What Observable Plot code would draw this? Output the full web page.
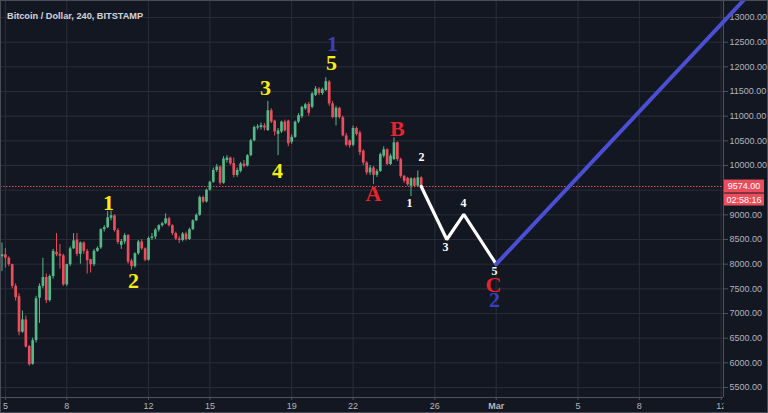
<!DOCTYPE html>
<html><head><meta charset="utf-8">
<script src="https://cdn.jsdelivr.net/npm/d3@7"></script>
<script src="https://cdn.jsdelivr.net/npm/@observablehq/plot@0.6"></script>
<style>
html,body{margin:0;padding:0;background:#131722;}
#chart{width:768px;height:413px;overflow:hidden;}
</style></head><body><div id="chart"></div>
<script>
// ---- data: 4h candles, BITSTAMP BTC/USD, from 2018-02-04 20:00 UTC ----
const firstCandle = "2018-02-04T20:00:00Z";
const opens  = [8150,8190,8120,7990,7550,7340,6620,6870,6330,5970,6450,7310,7550,7730,7260,7750,8240,8200,8170,7580,7990,8310,8490,8200,8430,8260,8090,7990,8260,8330,8700,8740,8930,8980,8680,8380,8450,8580,8060,7950,8210,8450,8310,8080,8520,8550,8690,8780,8820,8920,8780,8620,8510,8480,8610,8500,8700,8880,8990,9350,9260,9500,9660,9900,9970,9640,10100,10150,10040,9800,9880,10030,9990,10200,10500,10760,10770,10800,10710,11110,10900,10630,10680,10880,10900,10470,10570,10880,10990,11150,11240,11180,11420,11550,11460,11520,11690,11250,10970,11160,10970,10600,10500,10410,10750,10660,10290,10050,9850,9950,9800,9880,10190,10320,10020,10120,10460,10120,9780,9740,9580,9730,9580,9750];
const highs  = [8430,8320,8150,8000,7600,7400,7050,6950,6350,6500,7350,7600,8120,7800,7780,8300,8620,8400,8200,8000,8350,8620,8620,8450,8450,8300,8100,8300,8350,8720,8780,9070,9080,9000,8720,8500,8620,8600,8100,8230,8480,8500,8330,8550,8620,8720,8800,8850,9020,8950,8800,8650,8560,8640,8650,8730,8900,9020,9380,9380,9520,9680,9950,10020,9990,10180,10200,10170,10150,9950,10060,10100,10220,10530,10800,10830,10860,10850,11300,11150,10920,10750,10900,10920,10920,10620,10900,11050,11200,11260,11280,11480,11600,11580,11570,11780,11720,11300,11200,11180,11000,10650,10520,10800,10780,10700,10320,10080,10000,9980,9920,10250,10380,10340,10230,10560,10480,10150,9800,9760,9750,9750,9890,9770];
const lows   = [7850,7920,7950,7500,7250,6550,6600,6300,5930,5950,6400,6800,7500,7200,7230,7700,8150,7900,7550,7550,7950,8300,8150,8000,8200,7800,7820,7950,8240,8300,8650,8720,8880,8650,8400,8300,8400,8000,7880,7920,8180,8280,8050,8060,8480,8500,8650,8750,8800,8750,8580,8480,8420,8450,8470,8480,8680,8860,8970,9230,9240,9480,9640,9860,9600,9620,10050,10000,9750,9760,9850,9950,9970,10180,10480,10720,10720,10700,10690,10850,10600,10200,10650,10680,10380,10430,10550,10850,10950,11120,11000,11150,11400,11420,11420,11500,11200,10950,10800,10940,10580,10380,10350,10380,10600,10200,10000,9800,9800,9610,9760,9860,10150,10000,10000,10100,10080,9740,9640,9580,9370,9550,9560,9540];
const closes = [8190,8120,7990,7550,7320,6620,6870,6320,5960,6450,7300,7550,7730,7260,7750,8260,8190,8160,7580,7990,8310,8470,8200,8430,8260,8070,7990,8260,8320,8700,8740,8940,8980,8680,8440,8460,8580,8040,7950,8210,8450,8310,8080,8520,8550,8690,8780,8820,8920,8780,8620,8510,8480,8610,8500,8700,8880,8990,9350,9260,9500,9660,9900,9970,9640,10130,10150,10030,9800,9900,10030,9980,10200,10500,10770,10780,10810,10760,11110,10880,10680,10700,10880,10700,10440,10570,10880,11010,11180,11230,11060,11450,11550,11460,11540,11700,11250,10970,11160,10970,10600,10410,10400,10750,10630,10260,10050,9850,9950,9800,9880,10220,10320,10020,10190,10460,10120,9780,9680,9610,9730,9580,9750,9574];
const lastPrice = 9574;
const countdown = "02:58:16";

// projected sub-waves (white) and next impulse (blue)
const waveDates  = ["2018-02-25T08:00:00Z","2018-02-26T14:00:00Z","2018-02-27T10:00:00Z","2018-03-01T00:00:00Z"];
const wavePrices = [9574, 8500, 9010, 8000];
const impulseDates  = ["2018-03-01T00:00:00Z","2018-03-13T02:10:00Z"];
const impulsePrices = [8000, 13345];

// wave labels
const labelTexts  = ["1","2","3","4","5","1","A","B","1","2","3","4","C","2","5"];
const labelGroups = ["minor","minor","minor","minor","minor","major","abc","abc","sub","sub","sub","sub","abc","major","sub"];
const labelDates  = ["2018-02-10T01:00:00Z","2018-02-11T06:15:00Z","2018-02-17T17:15:00Z","2018-02-18T07:25:00Z","2018-02-20T22:50:00Z","2018-02-20T23:50:00Z","2018-02-23T00:00:00Z","2018-02-24T04:05:00Z","2018-02-24T18:15:00Z","2018-02-25T08:25:00Z","2018-02-26T12:30:00Z","2018-02-27T09:35:00Z","2018-02-28T20:50:00Z","2018-02-28T22:00:00Z","2018-02-28T22:00:00Z"];
const labelPrices = [9250, 7669, 11581, 9898, 12070, 12470, 9432, 10750, 9230, 10162, 8338, 9230, 7580, 7270, 7860];

// axes ticks (9500 label is hidden under the last-price tag in the source)
const xTickDates = ["2018-02-05","2018-02-08","2018-02-12","2018-02-15","2018-02-19","2018-02-22","2018-02-26","2018-03-01","2018-03-05","2018-03-08","2018-03-12"];
const yGridValues = [5500,6000,6500,7000,7500,8000,8500,9000,9500,10000,10500,11000,11500,12000,12500,13000];
const yLabelValues = [5500,6000,6500,7000,7500,8000,8500,9000,10000,10500,11000,11500,12000,12500,13000];
const chartTitle = "Bitcoin / Dollar, 240, BITSTAMP";

// ---- build ----
const H4 = 4 * 3600e3;
const t0 = new Date(firstCandle).getTime();
const candles = opens.map((o, i) => ({date: new Date(t0 + i * H4), open: o, high: highs[i], low: lows[i], close: closes[i]}));
const wave = waveDates.map((d, i) => ({date: new Date(d), price: wavePrices[i]}));
const impulse = impulseDates.map((d, i) => ({date: new Date(d), price: impulsePrices[i]}));
const labels = labelTexts.map((t, i) => ({text: t, group: labelGroups[i], date: new Date(labelDates[i]), price: labelPrices[i]}));
const xTicks = xTickDates.map(d => new Date(d + "T00:00:00Z"));

const DAY = 864e5, feb5 = Date.UTC(2018, 1, 5), pxPerDay = 20.45, x0 = 4.9, plotRight = 723;
const xDomain = [new Date(feb5 - x0 / pxPerDay * DAY), new Date(feb5 + (plotRight - x0) / pxPerDay * DAY)];

const GREEN = "#53b987", RED = "#eb4d5c";
const col = d => d.close >= d.open ? GREEN : RED;
const serif = "'Liberation Serif','Times New Roman',serif";
const sans = "'Liberation Sans',Arial,sans-serif";

const grp = g => labels.filter(d => d.group === g);

const plot = Plot.plot({
  width: 768, height: 413,
  marginLeft: 0, marginRight: 45, marginTop: 0, marginBottom: 16,
  style: {background: "#131722", color: "#b2b5be", fontFamily: sans, fontSize: "9px"},
  x: {type: "utc", domain: xDomain, axis: null},
  y: {domain: [5297, 13345], axis: null},
  marks: [
    Plot.gridX(xTicks, {stroke: "#2a2e39", strokeOpacity: 1}),
    Plot.gridY(yGridValues, {stroke: "#2a2e39", strokeOpacity: 1}),
    Plot.axisX(xTicks, {anchor: "bottom", tickSize: 3, tickPadding: 2, stroke: "#50535e",
      tickFormat: d => d.getUTCDate() === 1 ? "Mar" : String(d.getUTCDate()), fill: "#b2b5be", label: null}),
    Plot.axisY(yLabelValues, {anchor: "right", tickSize: 4, tickPadding: 2, stroke: "#50535e",
      tickFormat: d3.format(".2f"), fill: "#b2b5be", label: null}),
    Plot.ruleX([xDomain[1]], {stroke: "#50535e"}),
    Plot.ruleY([5297], {stroke: "#50535e"}),
    Plot.ruleY([lastPrice], {stroke: RED, strokeDasharray: "1.5,1.5", strokeWidth: 1}),
    Plot.ruleX(candles, {x: "date", y1: "low", y2: "high", stroke: col, strokeWidth: 1}),
    Plot.ruleX(candles, {x: "date", y1: "open", y2: d => Math.abs(d.close - d.open) < 25 ? d.open + (d.close >= d.open ? 25 : -25) : d.close, stroke: col, strokeWidth: 2.7}),
    Plot.line(wave, {x: "date", y: "price", stroke: "#ffffff", strokeWidth: 3.2, strokeLinejoin: "miter"}),
    Plot.line(impulse, {x: "date", y: "price", stroke: "#4a4fd4", strokeWidth: 4}),
    Plot.text(grp("minor"), {x: "date", y: "price", text: "text", fill: "#fbeb12", fontFamily: serif, fontWeight: "bold", fontSize: 22}),
    Plot.text(grp("abc"), {x: "date", y: "price", text: "text", fill: "#e8232b", fontFamily: serif, fontWeight: "bold", fontSize: 22}),
    Plot.text(grp("major"), {x: "date", y: "price", text: "text", fill: "#3a3fc2", fontFamily: serif, fontWeight: "bold", fontSize: 22}),
    Plot.text(grp("sub"), {x: "date", y: "price", text: "text", fill: "#ffffff", fontFamily: serif, fontWeight: "bold", fontSize: 12})
  ]
});
document.getElementById("chart").appendChild(plot);

// price-scale overlays: hide x labels under the price panel, last-price tags, title, outer frame
const svg = d3.select(plot);
const yS = plot.scale("y");
const yp = yS.apply(lastPrice);
svg.append("rect").attr("x", 723.5).attr("y", 397.5).attr("width", 45).attr("height", 16).attr("fill", "#131722");
svg.append("rect").attr("x", 724).attr("y", yp - 6.5).attr("width", 40).attr("height", 13).attr("fill", RED);
svg.append("text").attr("x", 744).attr("y", yp + 3.2).attr("text-anchor", "middle").attr("fill", "#fff")
  .style("font", "9px " + sans).text(d3.format(".2f")(lastPrice));
svg.append("rect").attr("x", 724).attr("y", yp + 7.5).attr("width", 40).attr("height", 12).attr("fill", RED);
svg.append("text").attr("x", 744).attr("y", yp + 16.7).attr("text-anchor", "middle").attr("fill", "#fff")
  .style("font", "9px " + sans).text(countdown);
svg.append("text").attr("x", 7).attr("y", 18.5).attr("text-anchor", "start").attr("fill", "#d1d4dc")
  .style("font", "bold 9.2px " + sans).text(chartTitle);
svg.selectAll("text").filter(function(){ return this.textContent === "Mar"; }).style("font-weight", "bold");
svg.append("rect").attr("x", 0.5).attr("y", 0.5).attr("width", 767).attr("height", 412).attr("fill", "none").attr("stroke", "#4a4d57");
</script></body></html>
